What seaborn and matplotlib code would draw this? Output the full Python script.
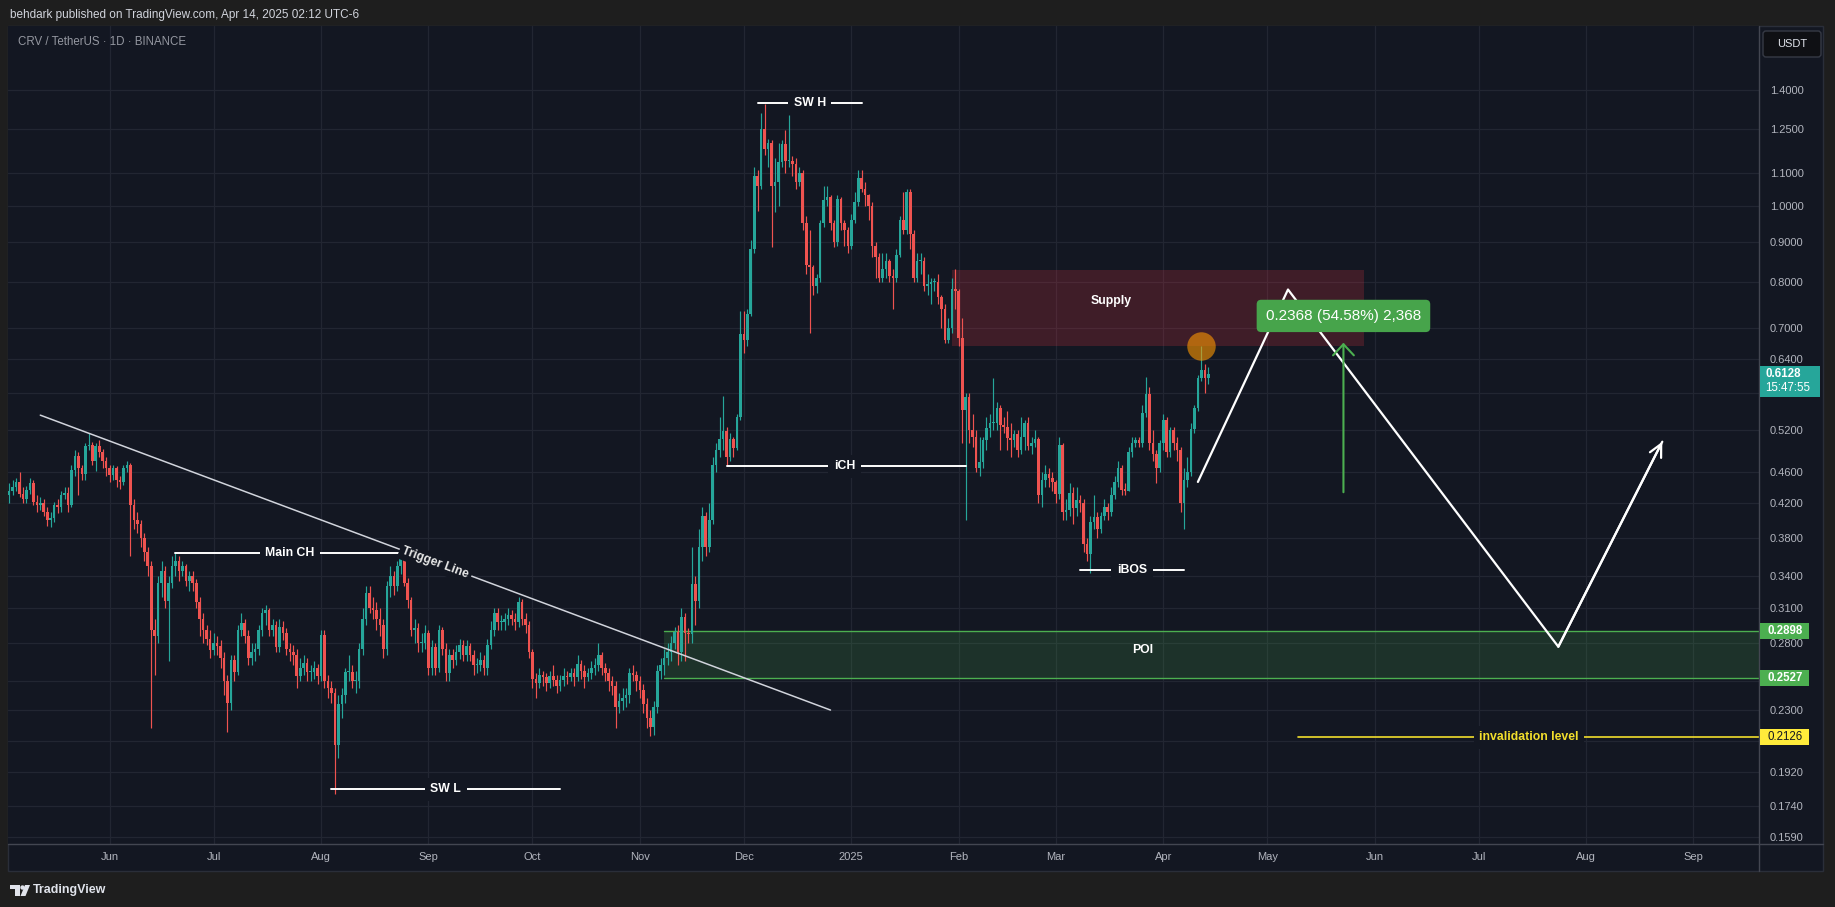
import math
import numpy as np
import pandas as pd
import matplotlib
matplotlib.use("Agg")
import matplotlib.pyplot as plt
import matplotlib.dates as mdates
from matplotlib.patches import Rectangle, FancyBboxPatch, Polygon, Circle
from matplotlib.transforms import IdentityTransform
from matplotlib.ticker import NullLocator, NullFormatter, FuncFormatter
import seaborn as sns

# ---------------- data ----------------
START_DATE = "2024-05-03"
first_open = 0.430
closes = [
    0.435, 0.440, 0.447, 0.432, 0.425, 0.437, 0.445, 0.422, 0.418, 0.420,
    0.410, 0.400, 0.402, 0.418, 0.415, 0.430, 0.433, 0.418, 0.463, 0.482,
    0.465, 0.458, 0.496, 0.498, 0.475, 0.496, 0.488, 0.475, 0.465, 0.456,
    0.466, 0.450, 0.447, 0.465, 0.470, 0.418, 0.400, 0.395, 0.380, 0.365,
    0.350, 0.290, 0.285, 0.333, 0.345, 0.316, 0.333, 0.350, 0.355, 0.345,
    0.350, 0.335, 0.340, 0.333, 0.315, 0.300, 0.290, 0.283, 0.274, 0.280,
    0.277, 0.268, 0.250, 0.235, 0.266, 0.257, 0.290, 0.296, 0.285, 0.268,
    0.272, 0.275, 0.290, 0.305, 0.308, 0.290, 0.295, 0.276, 0.293, 0.288,
    0.275, 0.272, 0.270, 0.254, 0.260, 0.264, 0.257, 0.257, 0.260, 0.254,
    0.286, 0.250, 0.245, 0.242, 0.208, 0.234, 0.240, 0.257, 0.257, 0.250,
    0.250, 0.275, 0.300, 0.323, 0.310, 0.308, 0.300, 0.295, 0.275, 0.330,
    0.340, 0.330, 0.350, 0.360, 0.333, 0.317, 0.290, 0.292, 0.280, 0.280,
    0.288, 0.260, 0.276, 0.260, 0.290, 0.275, 0.256, 0.270, 0.266, 0.272,
    0.278, 0.270, 0.277, 0.270, 0.262, 0.262, 0.266, 0.260, 0.278, 0.290,
    0.305, 0.297, 0.297, 0.300, 0.303, 0.300, 0.297, 0.315, 0.300, 0.295,
    0.272, 0.252, 0.249, 0.255, 0.253, 0.249, 0.254, 0.251, 0.247, 0.251,
    0.254, 0.253, 0.256, 0.253, 0.263, 0.258, 0.253, 0.256, 0.260, 0.262,
    0.270, 0.260, 0.256, 0.250, 0.247, 0.232, 0.236, 0.238, 0.240, 0.256,
    0.255, 0.250, 0.244, 0.234, 0.225, 0.219, 0.232, 0.258, 0.262, 0.268,
    0.272, 0.280, 0.289, 0.272, 0.302, 0.288, 0.287, 0.332, 0.316, 0.370,
    0.405, 0.370, 0.400, 0.470, 0.490, 0.507, 0.518, 0.480, 0.507, 0.494,
    0.540, 0.687, 0.676, 0.730, 0.880, 1.090, 1.060, 1.250, 1.180, 1.200,
    1.060, 1.070, 1.135, 1.195, 1.140, 1.140, 1.130, 1.070, 1.100, 0.950,
    0.840, 0.835, 0.790, 0.810, 0.950, 1.015, 1.025, 0.950, 0.900, 1.020,
    0.950, 0.930, 0.890, 0.960, 1.010, 1.085, 1.050, 1.030, 1.000, 0.890,
    0.860, 0.810, 0.830, 0.850, 0.815, 0.810, 0.865, 0.960, 0.930, 1.040,
    0.920, 0.810, 0.850, 0.852, 0.790, 0.795, 0.800, 0.800, 0.767, 0.740,
    0.675, 0.700, 0.785, 0.780, 0.680, 0.552, 0.573, 0.520, 0.510, 0.466,
    0.474, 0.505, 0.523, 0.530, 0.530, 0.555, 0.528, 0.525, 0.508, 0.505,
    0.514, 0.490, 0.510, 0.530, 0.497, 0.500, 0.506, 0.430, 0.450, 0.458,
    0.452, 0.447, 0.432, 0.498, 0.410, 0.412, 0.433, 0.414, 0.424, 0.420,
    0.373, 0.362, 0.398, 0.404, 0.390, 0.405, 0.416, 0.410, 0.430, 0.447,
    0.465, 0.437, 0.436, 0.488, 0.500, 0.505, 0.500, 0.547, 0.578, 0.500,
    0.485, 0.465, 0.500, 0.535, 0.488, 0.520, 0.500, 0.490, 0.420, 0.450,
    0.460, 0.522, 0.555, 0.605, 0.620, 0.605, 0.6128,
]
highs = [
    0.445, 0.450, 0.452, 0.460, 0.440, 0.442, 0.452, 0.450, 0.430, 0.428,
    0.425, 0.415, 0.410, 0.422, 0.425, 0.435, 0.440, 0.440, 0.470, 0.490,
    0.488, 0.470, 0.500, 0.516, 0.502, 0.500, 0.505, 0.492, 0.480, 0.470,
    0.470, 0.468, 0.455, 0.470, 0.475, 0.472, 0.425, 0.410, 0.400, 0.385,
    0.370, 0.355, 0.300, 0.340, 0.355, 0.350, 0.340, 0.360, 0.364, 0.360,
    0.355, 0.352, 0.345, 0.345, 0.337, 0.320, 0.305, 0.295, 0.290, 0.288,
    0.285, 0.282, 0.272, 0.255, 0.270, 0.270, 0.295, 0.305, 0.300, 0.290,
    0.280, 0.280, 0.295, 0.310, 0.312, 0.310, 0.300, 0.298, 0.300, 0.298,
    0.292, 0.280, 0.278, 0.275, 0.268, 0.270, 0.268, 0.262, 0.265, 0.263,
    0.290, 0.290, 0.255, 0.250, 0.245, 0.240, 0.245, 0.260, 0.270, 0.262,
    0.258, 0.280, 0.310, 0.330, 0.330, 0.320, 0.315, 0.310, 0.300, 0.335,
    0.350, 0.345, 0.355, 0.364, 0.363, 0.338, 0.320, 0.300, 0.296, 0.288,
    0.295, 0.290, 0.282, 0.280, 0.295, 0.293, 0.280, 0.275, 0.275, 0.278,
    0.283, 0.282, 0.282, 0.280, 0.274, 0.268, 0.272, 0.270, 0.283, 0.298,
    0.310, 0.310, 0.303, 0.305, 0.310, 0.308, 0.305, 0.320, 0.318, 0.305,
    0.298, 0.275, 0.256, 0.260, 0.258, 0.256, 0.258, 0.262, 0.255, 0.255,
    0.260, 0.258, 0.260, 0.260, 0.270, 0.266, 0.262, 0.260, 0.265, 0.268,
    0.280, 0.272, 0.264, 0.260, 0.254, 0.250, 0.242, 0.245, 0.245, 0.260,
    0.262, 0.258, 0.254, 0.248, 0.238, 0.230, 0.236, 0.262, 0.268, 0.275,
    0.280, 0.285, 0.293, 0.295, 0.310, 0.305, 0.292, 0.370, 0.340, 0.390,
    0.415, 0.410, 0.420, 0.480, 0.500, 0.540, 0.575, 0.525, 0.515, 0.510,
    0.545, 0.735, 0.735, 0.740, 0.905, 1.120, 1.110, 1.310, 1.345, 1.215,
    1.210, 1.150, 1.200, 1.210, 1.245, 1.300, 1.155, 1.150, 1.120, 1.110,
    0.970, 0.930, 0.840, 0.820, 0.960, 1.060, 1.060, 1.030, 0.960, 1.030,
    1.025, 0.960, 0.940, 0.975, 1.040, 1.110, 1.110, 1.070, 1.035, 1.010,
    0.900, 0.870, 0.870, 0.870, 0.855, 0.830, 0.880, 0.970, 1.040, 1.050,
    1.050, 0.930, 0.870, 0.870, 0.860, 0.820, 0.810, 0.810, 0.820, 0.770,
    0.750, 0.720, 0.810, 0.830, 0.785, 0.720, 0.580, 0.580, 0.545, 0.520,
    0.510, 0.510, 0.540, 0.545, 0.605, 0.565, 0.560, 0.540, 0.550, 0.530,
    0.520, 0.520, 0.540, 0.535, 0.540, 0.510, 0.520, 0.510, 0.460, 0.470,
    0.465, 0.460, 0.450, 0.510, 0.500, 0.425, 0.445, 0.440, 0.440, 0.430,
    0.425, 0.380, 0.405, 0.430, 0.410, 0.410, 0.425, 0.420, 0.440, 0.455,
    0.475, 0.470, 0.445, 0.495, 0.510, 0.510, 0.510, 0.560, 0.607, 0.590,
    0.520, 0.490, 0.505, 0.545, 0.540, 0.525, 0.525, 0.510, 0.495, 0.465,
    0.480, 0.530, 0.560, 0.610, 0.664, 0.630, 0.625,
]
lows = [
    0.420, 0.430, 0.435, 0.428, 0.420, 0.420, 0.432, 0.418, 0.410, 0.412,
    0.405, 0.393, 0.392, 0.398, 0.408, 0.410, 0.425, 0.410, 0.415, 0.455,
    0.430, 0.450, 0.450, 0.490, 0.470, 0.462, 0.480, 0.466, 0.455, 0.447,
    0.450, 0.440, 0.438, 0.443, 0.460, 0.360, 0.390, 0.385, 0.370, 0.355,
    0.340, 0.218, 0.255, 0.280, 0.320, 0.310, 0.265, 0.328, 0.340, 0.335,
    0.340, 0.330, 0.325, 0.325, 0.310, 0.285, 0.280, 0.278, 0.268, 0.270,
    0.270, 0.260, 0.240, 0.216, 0.230, 0.250, 0.255, 0.285, 0.280, 0.262,
    0.262, 0.265, 0.270, 0.285, 0.295, 0.285, 0.285, 0.272, 0.272, 0.282,
    0.270, 0.265, 0.262, 0.245, 0.250, 0.255, 0.250, 0.250, 0.252, 0.248,
    0.250, 0.245, 0.238, 0.235, 0.180, 0.200, 0.225, 0.235, 0.250, 0.245,
    0.242, 0.245, 0.270, 0.295, 0.305, 0.300, 0.290, 0.285, 0.268, 0.270,
    0.320, 0.322, 0.325, 0.342, 0.330, 0.310, 0.285, 0.280, 0.272, 0.272,
    0.275, 0.255, 0.255, 0.255, 0.257, 0.270, 0.250, 0.250, 0.260, 0.262,
    0.267, 0.265, 0.265, 0.265, 0.255, 0.256, 0.258, 0.255, 0.255, 0.275,
    0.285, 0.290, 0.290, 0.290, 0.295, 0.295, 0.290, 0.293, 0.295, 0.288,
    0.268, 0.245, 0.238, 0.245, 0.247, 0.243, 0.245, 0.247, 0.242, 0.243,
    0.247, 0.248, 0.250, 0.247, 0.250, 0.252, 0.245, 0.250, 0.252, 0.255,
    0.258, 0.255, 0.250, 0.243, 0.240, 0.218, 0.228, 0.230, 0.232, 0.235,
    0.250, 0.243, 0.238, 0.228, 0.218, 0.213, 0.214, 0.228, 0.252, 0.255,
    0.262, 0.265, 0.275, 0.262, 0.265, 0.265, 0.280, 0.280, 0.295, 0.310,
    0.355, 0.360, 0.365, 0.395, 0.460, 0.480, 0.490, 0.468, 0.475, 0.480,
    0.490, 0.535, 0.650, 0.665, 0.725, 0.870, 0.985, 1.050, 1.160, 1.120,
    0.885, 0.980, 1.000, 1.120, 1.100, 1.120, 1.090, 1.050, 1.060, 0.930,
    0.820, 0.690, 0.770, 0.775, 0.800, 0.940, 1.000, 0.930, 0.885, 0.890,
    0.930, 0.890, 0.870, 0.880, 0.950, 1.000, 1.040, 1.000, 0.960, 0.860,
    0.810, 0.800, 0.800, 0.810, 0.800, 0.740, 0.800, 0.860, 0.920, 0.920,
    0.880, 0.800, 0.800, 0.820, 0.780, 0.770, 0.750, 0.780, 0.750, 0.700,
    0.670, 0.670, 0.690, 0.740, 0.665, 0.500, 0.400, 0.500, 0.495, 0.460,
    0.455, 0.465, 0.490, 0.510, 0.520, 0.520, 0.490, 0.515, 0.490, 0.480,
    0.495, 0.480, 0.485, 0.490, 0.490, 0.485, 0.495, 0.420, 0.415, 0.440,
    0.440, 0.435, 0.420, 0.425, 0.400, 0.400, 0.405, 0.395, 0.405, 0.410,
    0.365, 0.355, 0.343, 0.390, 0.380, 0.385, 0.400, 0.400, 0.405, 0.425,
    0.440, 0.430, 0.430, 0.435, 0.480, 0.495, 0.495, 0.495, 0.540, 0.490,
    0.475, 0.445, 0.460, 0.490, 0.480, 0.480, 0.490, 0.475, 0.410, 0.390,
    0.440, 0.455, 0.515, 0.550, 0.600, 0.580, 0.595,
]
assert len(closes) == len(highs) == len(lows)

price_ticks = [1.40, 1.25, 1.10, 1.00, 0.90, 0.80, 0.70, 0.64, 0.58, 0.52, 0.46,
               0.42, 0.38, 0.34, 0.31, 0.28, 0.25, 0.23, 0.21, 0.192, 0.174, 0.159]
hidden_tick_labels = [0.58, 0.25, 0.21]   # covered by the price tags in the reference

trend_dates = ["2024-05-12", "2024-12-26"]
trend_prices = [0.543, 0.230]
trigger_label = ("Trigger Line", "2024-09-03", 0.353)

levels = [  # label, line start, line end, text date, price
    ("Main CH", "2024-06-20", "2024-08-24", "2024-07-23", 0.363),
    ("SW L", "2024-08-04", "2024-10-09", "2024-09-06", 0.1827),
    ("SW H", "2024-12-05", "2025-01-04", "2024-12-20", 1.347),
    ("iCH", "2024-11-26", "2025-02-03", "2024-12-30", 0.468),
    ("iBOS", "2025-03-08", "2025-04-07", "2025-03-23", 0.346),
]
supply_dates = ["2025-01-30", "2025-05-29"]
supply_prices = [0.665, 0.829]
supply_label = ("Supply", "2025-03-17", 0.757)
poi_dates = ["2024-11-08", "2025-12-31"]
poi_prices = [0.2527, 0.2898]
poi_label = ("POI", "2025-03-26", 0.274)
invalid_dates = ["2025-05-10", "2025-12-31"]
invalid_price = 0.2126
invalid_label = ("invalidation level", "2025-07-15 12:00")
proj_dates = ["2025-04-11", "2025-05-07", "2025-07-24", "2025-08-23"]
proj_prices = [0.447, 0.783, 0.2766, 0.5026]
measure_date = "2025-05-23"
measure_prices = [0.4338, 0.6706]
measure_text = ("0.2368 (54.58%) 2,368", 0.725)
circle_point = ("2025-04-12", 0.664)
last_price = 0.6128
countdown = "15:47:55"
tag_prices = [0.2898, 0.2527]
header = "behdark published on TradingView.com, Apr 14, 2025 02:12 UTC-6"
symbol = "CRV / TetherUS \u00b7 1D \u00b7 BINANCE"

# ---------------- style ----------------
BG = "#131722"
OUTER = "#1e1e1e"
UP, DOWN = "#26a69a", "#ef5350"
sns.set_theme(style="dark", rc={"axes.facecolor": BG, "figure.facecolor": OUTER,
                                "grid.color": "#232733", "axes.edgecolor": BG})
plt.rcParams["font.family"] = ["Liberation Sans", "DejaVu Sans"]

W, H = 1835, 907
fig = plt.figure(figsize=(W / 100, H / 100), dpi=100)
fig.patch.set_facecolor(OUTER)
L, R, T, B = 8, 1759, 26, 844
ax = fig.add_axes([L / W, 1 - B / H, (R - L) / W, (B - T) / H])
ax.set_facecolor(BG)

IT = IdentityTransform()
def P(x, ytop):
    return x, H - ytop

fig.add_artist(Rectangle(P(8, 871), 1815, 845, transform=IT, fc=BG, ec="#2a2e39",
                         lw=1, zorder=-10))

dates = pd.date_range(START_DATE, periods=len(closes), freq="D")
xs = mdates.date2num(dates)
d = lambda s: mdates.date2num(pd.Timestamp(s))
x0 = d(START_DATE)

opens = [first_open] + closes[:-1]
o = np.array(opens); c = np.array(closes)
cols = [UP if cc >= oo else DOWN for oo, cc in zip(o, c)]
bot = np.minimum(o, c)
top = np.maximum(np.maximum(o, c), bot * 1.003)

# zones
ax.add_patch(Rectangle((d(supply_dates[0]), supply_prices[0]),
                       d(supply_dates[1]) - d(supply_dates[0]),
                       supply_prices[1] - supply_prices[0],
                       fc="#f23645", alpha=0.2, ec="none", zorder=1))
ax.add_patch(Rectangle((d(poi_dates[0]), poi_prices[0]),
                       d(poi_dates[1]) - d(poi_dates[0]),
                       poi_prices[1] - poi_prices[0],
                       fc="#4caf50", alpha=0.18, ec="none", zorder=1))
for pp in poi_prices:
    ax.plot([d(poi_dates[0]), d(poi_dates[1])], [pp, pp], color="#4caf50", lw=1.0, zorder=1.5)

# candles
ax.vlines(xs, lows, highs, colors=cols, lw=0.85, zorder=2)
ax.bar(xs, top - bot, bottom=bot, width=0.75, color=cols, linewidth=0, zorder=2.5)

ax.set_yscale("log")
ax.set_xlim(x0 - 0.32, x0 + 504.9)
ax.set_ylim(0.1557, 1.687)

# grid / ticks
ax.yaxis.set_minor_locator(NullLocator())
ax.yaxis.set_minor_formatter(NullFormatter())
ax.set_yticks(price_ticks)
ax.set_yticklabels(["" if v in hidden_tick_labels else f"{v:.4f}" for v in price_ticks])
ax.yaxis.tick_right()
ax.xaxis.set_major_locator(mdates.MonthLocator(bymonthday=1))
ax.xaxis.set_major_formatter(FuncFormatter(
    lambda v, pos: "2025" if mdates.num2date(v).month == 1 else mdates.num2date(v).strftime("%b")))
ax.tick_params(axis="y", length=0, pad=8, labelsize=8, labelcolor="#b2b5be")
ax.tick_params(axis="x", length=0, pad=6, labelsize=8, labelcolor="#b2b5be")
ax.grid(True, color="#222632", lw=0.9)
ax.set_axisbelow(True)
for s in ax.spines.values():
    s.set_visible(False)

# trend line
tx = [d(t) for t in trend_dates]
ax.plot(tx, trend_prices, color="#d1d4dc", lw=1.1, zorder=3)
p1 = ax.transData.transform((tx[0], trend_prices[0]))
p2 = ax.transData.transform((tx[1], trend_prices[1]))
ang = math.degrees(math.atan2(p2[1] - p1[1], p2[0] - p1[0]))
ax.text(d(trigger_label[1]), trigger_label[2], trigger_label[0], rotation=ang,
        rotation_mode="anchor", ha="center", va="center", color="#e8e8e8",
        fontsize=8.8, fontweight="bold", zorder=4,
        bbox=dict(boxstyle="square,pad=0.25", fc=BG, ec="none"))

# level annotations
for lab, s0, s1, st, pr in levels:
    ax.plot([d(s0), d(s1)], [pr, pr], color="white", lw=1.4, zorder=3)
    ax.text(d(st), pr, lab, ha="center", va="center", color="white", fontsize=8.8,
            fontweight="bold", zorder=4, bbox=dict(boxstyle="square,pad=0.45", fc=BG, ec="none"))

ax.text(d(supply_label[1]), supply_label[2], supply_label[0], ha="center", va="center",
        color="white", fontsize=8.8, fontweight="bold", zorder=4)
ax.text(d(poi_label[1]), poi_label[2], poi_label[0], ha="center", va="center",
        color="white", fontsize=8.8, fontweight="bold", zorder=4)

YEL = "#f2de2c"
ax.plot([d(invalid_dates[0]), d(invalid_dates[1])], [invalid_price] * 2, color=YEL, lw=1.2, zorder=3)
ax.text(d(invalid_label[1]), invalid_price, invalid_label[0], ha="center", va="center",
        color=YEL, fontsize=8.8, fontweight="bold", zorder=4,
        bbox=dict(boxstyle="square,pad=0.45", fc=BG, ec="none"))

# projection path
px_ = [d(t) for t in proj_dates]
sns.lineplot(x=px_, y=proj_prices, ax=ax, color="white", lw=1.6, sort=False,
             estimator=None, zorder=5)
ax.annotate("", xy=(px_[-1], proj_prices[-1]), xytext=(px_[-2], proj_prices[-2]),
            arrowprops=dict(arrowstyle="->,head_length=0.9,head_width=0.45", color="white",
                            lw=1.6, shrinkA=0, shrinkB=0, mutation_scale=10), zorder=5)

# measurement
GRN = "#4caf50"
ax.annotate("", xy=(d(measure_date), measure_prices[1]), xytext=(d(measure_date), measure_prices[0]),
            arrowprops=dict(arrowstyle="->,head_length=0.8,head_width=0.75", color=GRN,
                            lw=1.5, shrinkA=0, shrinkB=0, mutation_scale=10), zorder=5)
ax.text(d(measure_date), measure_text[1], measure_text[0], ha="center", va="center",
        color="white", fontsize=11, zorder=6,
        bbox=dict(boxstyle="round,pad=0.6,rounding_size=0.3", fc="#47a44b", ec="none"))

# orange circle
ax.scatter([d(circle_point[0])], [circle_point[1]], s=420, color="#ff9800", alpha=0.6,
           linewidths=0, zorder=6)

# separators
fig.add_artist(plt.Line2D([R, R], [H - 26, H - 871], transform=IT, color="#434651", lw=1))
fig.add_artist(plt.Line2D([8, 1823], [H - B, H - B], transform=IT, color="#434651", lw=1))

# USDT box
fig.add_artist(FancyBboxPatch(P(1763, 57), 58, 26, boxstyle="round,pad=0,rounding_size=3",
                              transform=IT, fc="#0f1014", ec="#363a45", lw=1, zorder=5))
fig.text(1792, H - 44, "USDT", transform=IT, ha="center", va="center", color="#e0e3eb",
         fontsize=8, zorder=6)

# price tags
def ydisp(pr):
    return ax.transData.transform((x0, pr))[1]

yl = ydisp(last_price)
fig.add_artist(Rectangle((1760, yl - 23.5), 60, 31, transform=IT, fc=UP, ec="none", zorder=5))
fig.text(1765, yl, f"{last_price:.4f}", transform=IT, color="white", fontsize=8.3,
         fontweight="bold", va="center", ha="left", zorder=6)
fig.text(1765, yl - 14.5, countdown, transform=IT, color="white", fontsize=8.3,
         va="center", ha="left", zorder=6)
for tp in tag_prices:
    yy = ydisp(tp)
    fig.add_artist(Rectangle((1760, yy - 8), 49, 16, transform=IT, fc=GRN, ec="none", zorder=5))
    fig.text(1767, yy, f"{tp:.4f}", transform=IT, color="white", fontsize=8.3,
             fontweight="bold", va="center", ha="left", zorder=6)
yy = ydisp(invalid_price)
fig.add_artist(Rectangle((1760, yy - 8), 49, 16, transform=IT, fc="#ffeb3b", ec="none", zorder=5))
fig.text(1767, yy, f"{invalid_price:.4f}", transform=IT, color="#131722", fontsize=8.3,
         va="center", ha="left", zorder=6)

# header / symbol / footer
fig.text(10, H - 15, header, transform=IT, color="#d1d4dc", fontsize=8.5, va="center", ha="left")
fig.text(18, H - 42, symbol, transform=IT, color="#9598a1", fontsize=8.3, va="center", ha="left")
logo_c = "#e0e3eb"
fig.add_artist(Rectangle(P(10, 889), 10, 4, transform=IT, fc=logo_c, ec="none"))
fig.add_artist(Rectangle(P(15, 896), 4.5, 11, transform=IT, fc=logo_c, ec="none"))
fig.add_artist(Circle(P(22.5, 887.5), 2.2, transform=IT, fc=logo_c, ec="none"))
fig.add_artist(Polygon([P(25, 885), P(30, 885), P(25.5, 896), P(20.5, 896)], closed=True,
                       transform=IT, fc=logo_c, ec="none"))
fig.text(33, H - 890, "TradingView", transform=IT, color="#e0e3eb", fontsize=9,
         fontweight="bold", va="center", ha="left")

fig.savefig("out.png", dpi=100, facecolor=OUTER)
